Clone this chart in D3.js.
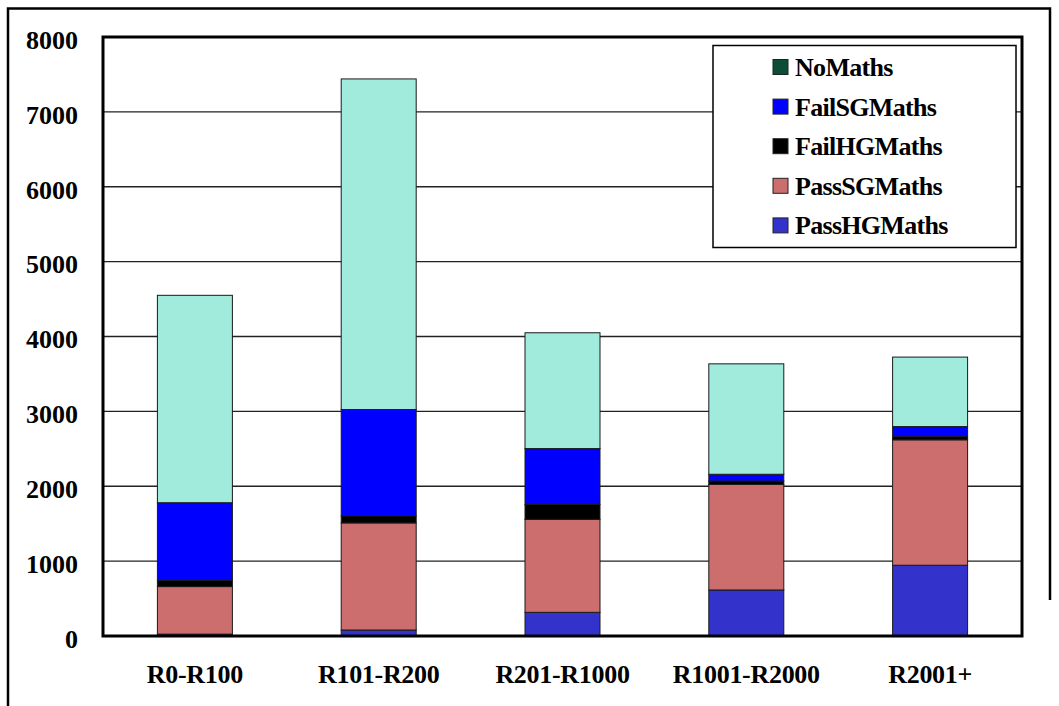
<!DOCTYPE html>
<html>
<head>
<meta charset="utf-8">
<script src="https://cdn.jsdelivr.net/npm/d3@7"></script>
<style>
  html, body { margin: 0; padding: 0; background: #fff; }
  svg { display: block; }
  text { font-family: "Liberation Serif", "Times New Roman", serif; font-weight: bold; fill: #000; }
</style>
</head>
<body>
<svg id="chart" width="1059" height="706"></svg>
<script>
// Income bands
const categories = ["R0-R100", "R101-R200", "R201-R1000", "R1001-R2000", "R2001+"];

// Learner counts per band, stacked bottom to top
const passHG = [25, 80, 316, 615, 945];
const passSG = [635, 1430, 1242, 1410, 1675];
const failHG = [80, 95, 200, 45, 42];
const failSG = [1040, 1420, 745, 90, 135];
const noMaths = [2770, 4415, 1547, 1475, 928];

const seriesNames = ["PassHGMaths", "PassSGMaths", "FailHGMaths", "FailSGMaths", "NoMaths"];
const yTicks = [0, 1000, 2000, 3000, 4000, 5000, 6000, 7000, 8000];

const barFill = {
  PassHGMaths: "#3333cc",
  PassSGMaths: "#cd6e6e",
  FailHGMaths: "#000000",
  FailSGMaths: "#0000ff",
  NoMaths: "#a0ebdb"
};
const legendFill = Object.assign({}, barFill, { NoMaths: "#0b4d36" });

const rows = categories.map((c, i) => ({
  cat: c,
  PassHGMaths: passHG[i],
  PassSGMaths: passSG[i],
  FailHGMaths: failHG[i],
  FailSGMaths: failSG[i],
  NoMaths: noMaths[i]
}));

const svg = d3.select("#chart");
const plot = { left: 103, right: 1022, top: 37, bottom: 636 };

const x = d3.scaleBand().domain(categories).range([plot.left, plot.right]).padding(0);
const y = d3.scaleLinear().domain([0, 8000]).range([plot.bottom, plot.top]);
const barW = x.bandwidth() * 0.408;

// Outer chart frame (top, left, right)
svg.append("path")
  .attr("d", "M8,706 L8,8.5 L1050,8.5 L1050,600")
  .attr("fill", "none").attr("stroke", "#000").attr("stroke-width", 2.5);

// Horizontal gridlines
svg.append("g").selectAll("line")
  .data(yTicks.filter(t => t > 0 && t < 8000))
  .join("line")
  .attr("x1", plot.left).attr("x2", plot.right)
  .attr("y1", d => y(d)).attr("y2", d => y(d))
  .attr("stroke", "#222").attr("stroke-width", 1.3);

// Stacked bars
const stack = d3.stack().keys(seriesNames)(rows);
svg.append("g").selectAll("g")
  .data(stack)
  .join("g")
  .attr("fill", d => barFill[d.key])
  .selectAll("rect")
  .data(d => d)
  .join("rect")
  .attr("x", d => x(d.data.cat) + (x.bandwidth() - barW) / 2)
  .attr("width", barW)
  .attr("y", d => y(d[1]))
  .attr("height", d => y(d[0]) - y(d[1]))
  .attr("stroke", "#1a1a1a")
  .attr("stroke-width", 1);

// Plot area border
svg.append("rect")
  .attr("x", plot.left).attr("y", plot.top)
  .attr("width", plot.right - plot.left).attr("height", plot.bottom - plot.top)
  .attr("fill", "none").attr("stroke", "#000").attr("stroke-width", 3);

// Y axis labels
const yAxis = d3.axisLeft(y).tickValues(yTicks).tickSize(0).tickPadding(0).tickFormat(d3.format("d"));
const yg = svg.append("g").attr("transform", "translate(78,3)").call(yAxis);
yg.select(".domain").remove();
yg.selectAll("text").attr("font-size", 26).attr("font-family", "Liberation Serif").attr("font-weight", "bold").attr("fill", "#000");

// X axis labels
const xAxis = d3.axisBottom(x).tickSize(0).tickPadding(0);
const xg = svg.append("g").attr("transform", "translate(0,665)").call(xAxis);
xg.select(".domain").remove();
xg.selectAll("text").attr("font-size", 26).attr("letter-spacing", -0.3).attr("font-family", "Liberation Serif").attr("font-weight", "bold").attr("fill", "#000");

// Legend
const legendOrder = ["NoMaths", "FailSGMaths", "FailHGMaths", "PassSGMaths", "PassHGMaths"];
const lg = svg.append("g");
lg.append("rect")
  .attr("x", 713).attr("y", 45.5).attr("width", 303).attr("height", 202)
  .attr("fill", "#fff").attr("stroke", "#000").attr("stroke-width", 1.5);
const items = lg.selectAll("g.item")
  .data(legendOrder)
  .join("g")
  .attr("class", "item")
  .attr("transform", (d, i) => `translate(0,${67 + i * 39.6})`);
items.append("rect")
  .attr("x", 773).attr("y", -7.5).attr("width", 15).attr("height", 15)
  .attr("fill", d => legendFill[d]).attr("stroke", "#222").attr("stroke-width", 1);
items.append("text")
  .attr("x", 795).attr("y", 9)
  .attr("font-size", 26)
  .attr("letter-spacing", -0.7)
  .text(d => d);
</script>
</body>
</html>
